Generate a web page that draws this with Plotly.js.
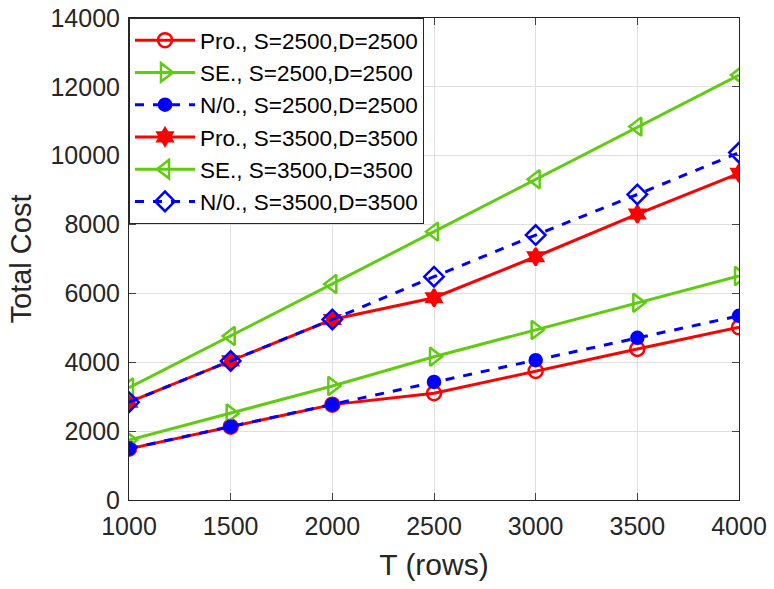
<!DOCTYPE html>
<html><head><meta charset="utf-8">
<script src="https://cdn.plot.ly/plotly-3.0.1.min.js"></script>
<style>body{margin:0;background:#fff}#chart{width:774px;height:589px}</style>
</head><body><div id="chart"></div>
<script>
var T = [1000, 1500, 2000, 2500, 3000, 3500, 4000];
var pro2500 = [1490, 2130, 2770, 3100, 3750, 4385, 5015];
var se2500  = [1740, 2515, 3310, 4160, 4935, 5730, 6505];
var no2500  = [1490, 2130, 2770, 3430, 4060, 4710, 5350];
var pro3500 = [2840, 4040, 5245, 5875, 7065, 8305, 9490];
var se3500  = [3265, 4765, 6275, 7795, 9315, 10845, 12345];
var no3500  = [2840, 4040, 5245, 6485, 7695, 8875, 10090];
var names = ["Pro., S=2500,D=2500","SE., S=2500,D=2500","N/0., S=2500,D=2500",
             "Pro., S=3500,D=3500","SE., S=3500,D=3500","N/0., S=3500,D=3500"];

var RED = "#ff0000", GREEN = "#5fcc10", BLUE = "#0000ff";
function tr(y, name, color, dash, sym, size){
  return {x:T, y:y, name:name, type:"scatter", mode:"lines+markers",
    line:{color:color, width:3, dash:dash},
    marker:{symbol:sym, size:size, color:color, line:{color:color, width:2.5}}};
}
var data = [
  tr(pro2500, names[0], RED, "solid", "circle-open", 14),
  tr(se2500, names[1], GREEN, "solid", "triangle-right-open", 16),
  tr(no2500, names[2], BLUE, "dash", "circle", 12),
  tr(pro3500, names[3], RED, "solid", "hexagram", 13),
  tr(se3500, names[4], GREEN, "solid", "triangle-left-open", 16),
  tr(no3500, names[5], BLUE, "dash", "diamond-open", 15)
];
var layout = {
  width:774, height:589,
  margin:{l:129, r:35, t:18, b:89},
  paper_bgcolor:"#fff", plot_bgcolor:"#fff",
  font:{family:"Liberation Sans, Arial, sans-serif", size:25, color:"#262626"},
  showlegend:true,
  legend:{x:0, y:1, xanchor:"left", yanchor:"top", bgcolor:"#fff", bordercolor:"#262626", borderwidth:1,
          font:{size:22.5, color:"#000"}, tracegroupgap:0, itemwidth:60},
  xaxis:{range:[1000,4000], tickvals:T, ticktext:T.map(String), ticks:"inside", ticklen:7,
         showgrid:true, gridcolor:"#dfdfdf", showline:true, linecolor:"#262626", linewidth:1, mirror:"ticks",
         zeroline:false, ticklabelstandoff:4, title:{text:"T (rows)", font:{size:30}, standoff:14}},
  yaxis:{range:[0,14000], dtick:2000, ticks:"inside", ticklen:7, tickformat:"d",
         showgrid:true, gridcolor:"#dfdfdf", showline:true, linecolor:"#262626", linewidth:1, mirror:"ticks",
         zeroline:false, ticklabelstandoff:3, title:{text:"Total Cost", font:{size:29}, standoff:10}}
};
Plotly.newPlot("chart", data, layout, {displayModeBar:false, staticPlot:true});
</script></body></html>
